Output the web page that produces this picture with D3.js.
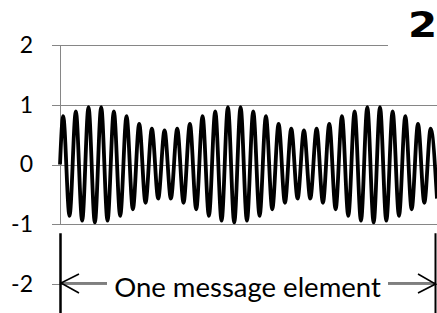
<!DOCTYPE html>
<html>
<head>
<meta charset="utf-8">
<script src="https://cdn.jsdelivr.net/npm/d3@7"></script>
<style>
  html, body { margin: 0; padding: 0; background: #fff; }
  svg { display: block; }
</style>
</head>
<body>
<div id="chart"></div>
<script>
// wave value where the trace starts (left edge of the plot)
const startValue = 0;
// peak / trough value of every half cycle, left to right
const extremes = [
   0.81, -0.86,  0.89, -0.94,  0.96, -0.97,  0.96, -0.94,  0.89, -0.86,
   0.81, -0.75,  0.68, -0.64,  0.60, -0.57,  0.57, -0.57,  0.60, -0.64,
   0.68, -0.75,  0.81, -0.86,  0.89, -0.94,  0.96, -0.97,  0.96, -0.94,
   0.89, -0.86,  0.81, -0.75,  0.68, -0.64,  0.60, -0.57,  0.57, -0.57,
   0.60, -0.64,  0.68, -0.75,  0.81, -0.86,  0.89, -0.94,  0.96, -0.97,
   0.96, -0.94,  0.89, -0.86,  0.81, -0.75,  0.68, -0.64,  0.60, -0.57
];
const yTicks = [-2, -1, 0, 1, 2];
const yTickLabels = ['-2', '-1', '0', '1', '2'];
const spanLabel = 'One message element';
const cornerLabel = '2';

const width = 437, height = 313;
const margin = { top: 45, right: 0, bottom: 29, left: 60 };
const gridColor = '#868686';

const svg = d3.select('#chart')
    .append('svg')
    .attr('width', width)
    .attr('height', height);

// points: start, then one extreme per half cycle
const points = [{ t: 0, v: startValue }]
    .concat(extremes.map((v, i) => ({ t: i + 0.5, v: v })));

const x = d3.scaleLinear()
    .domain([0, extremes.length - 0.5])
    .range([margin.left, width - margin.right]);

const y = d3.scaleLinear()
    .domain([-2, 2])
    .range([height - margin.bottom, margin.top]);

// gridlines
svg.append('g')
    .selectAll('line')
    .data(yTicks)
    .join('line')
    .attr('x1', margin.left - 8)
    .attr('x2', width)
    .attr('y1', d => Math.round(y(d)) + 0.5)
    .attr('y2', d => Math.round(y(d)) + 0.5)
    .attr('stroke', gridColor)
    .attr('stroke-width', 1);

// value axis line (stops at -1, the bracket sits below it)
svg.append('line')
    .attr('x1', margin.left + 0.5)
    .attr('x2', margin.left + 0.5)
    .attr('y1', Math.round(y(2)))
    .attr('y2', Math.round(y(-1)) + 1)
    .attr('stroke', gridColor)
    .attr('stroke-width', 1);

// tick labels
const yAxis = svg.append('g')
    .attr('transform', `translate(${margin.left},0)`)
    .call(d3.axisLeft(y)
        .tickValues(yTicks)
        .tickFormat((d, i) => yTickLabels[i])
        .tickSize(0)
        .tickPadding(27));
yAxis.select('.domain').remove();
yAxis.selectAll('text')
    .attr('fill', '#000')
    .style('font-family', 'Lato, "Open Sans", sans-serif')
    .style('font-size', '23px');

// white box behind the corner label
svg.append('rect')
    .attr('x', 388)
    .attr('y', 0)
    .attr('width', width - 388)
    .attr('height', 60)
    .attr('fill', '#fff');

svg.append('text')
    .attr('transform', 'translate(422.5,37) scale(1.2,1)')
    .attr('text-anchor', 'middle')
    .style('font-family', '"DejaVu Sans", sans-serif')
    .style('font-weight', 'bold')
    .style('font-size', '35px')
    .text(cornerLabel);

// the wave
const line = d3.line()
    .x(d => x(d.t))
    .y(d => y(d.v))
    .curve(d3.curveMonotoneX);

svg.append('path')
    .datum(points)
    .attr('fill', 'none')
    .attr('stroke', '#000')
    .attr('stroke-width', 3.8)
    .attr('stroke-linejoin', 'round')
    .attr('d', line);

// message element annotation
const x0 = x(0), x1 = x(extremes.length - 0.5);
const ay = y(-2) - 1;

svg.append('rect')
    .attr('x', 107)
    .attr('y', 262)
    .attr('width', 388 - 107)
    .attr('height', 48)
    .attr('fill', '#fff');

svg.append('text')
    .attr('x', 247.5)
    .attr('y', 297)
    .attr('text-anchor', 'middle')
    .attr('fill', '#000')
    .style('font-family', 'Lato, "Open Sans", sans-serif')
    .style('font-size', '27.5px')
    .text(spanLabel);

const ann = svg.append('g')
    .attr('stroke', '#000')
    .attr('fill', 'none');

// bracket ends
ann.append('line')
    .attr('x1', x0 + 0.5).attr('x2', x0 + 0.5)
    .attr('y1', y(-1) + 9).attr('y2', height)
    .attr('stroke-width', 2.5);
ann.append('line')
    .attr('x1', x1 - 1.5).attr('x2', x1 - 1.5)
    .attr('y1', y(-1) + 9).attr('y2', height)
    .attr('stroke-width', 2);

// left arrow
ann.append('line')
    .attr('x1', x0 + 1).attr('x2', 107)
    .attr('y1', ay).attr('y2', ay)
    .attr('stroke-width', 1.2);
ann.append('path')
    .attr('d', `M${x0 + 19},${ay - 9}L${x0 + 1},${ay}L${x0 + 19},${ay + 10}`)
    .attr('stroke-width', 1.6);

// right arrow
ann.append('line')
    .attr('x1', 388).attr('x2', x1 - 2)
    .attr('y1', ay).attr('y2', ay)
    .attr('stroke-width', 1.2);
ann.append('path')
    .attr('d', `M${x1 - 19},${ay - 9}L${x1 - 1.5},${ay + 1}L${x1 - 19},${ay + 10}`)
    .attr('stroke-width', 1.6);
</script>
</body>
</html>
